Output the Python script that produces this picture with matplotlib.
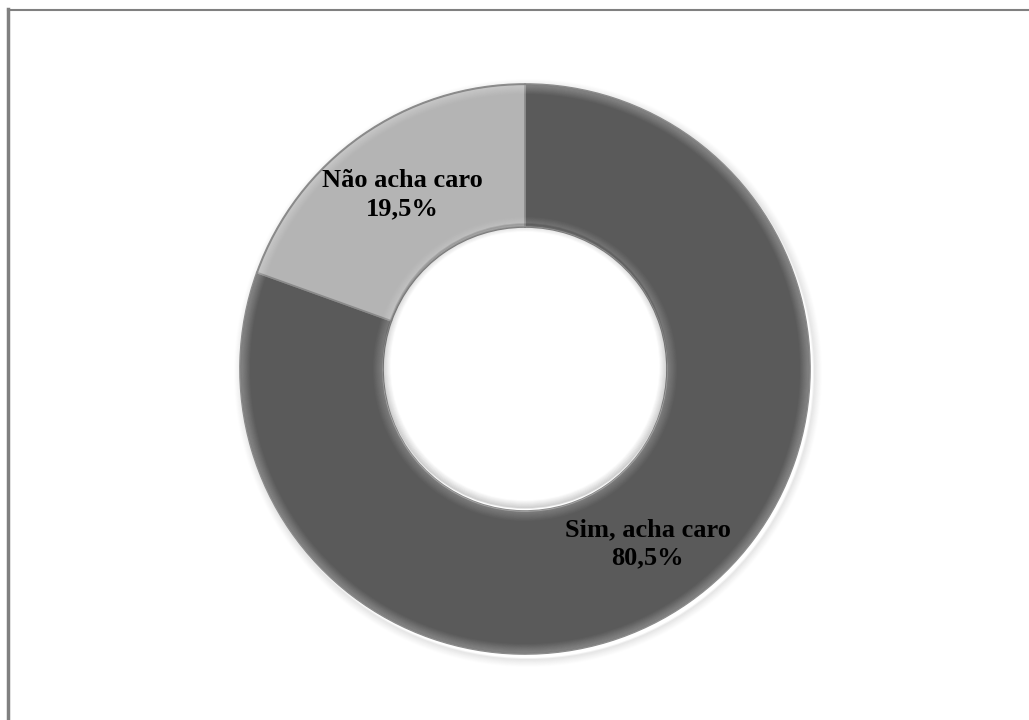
import numpy as np
import matplotlib.pyplot as plt
from matplotlib.patches import Wedge, Circle

labels = ["Sim, acha caro", "Não acha caro"]
shares = [80.5, 19.5]
colors = ["#5a5a5a", "#b4b4b4"]

# donut geometry in pixel units (axes fill the whole figure)
cx, cy = 525, 351
r_out, r_in = 285, 142


def draw_donut(ax):
    wedges, _ = ax.pie(shares, colors=colors, startangle=90, counterclock=False,
                       center=(cx, cy), radius=r_out,
                       wedgeprops=dict(width=r_out - r_in, edgecolor="#8a8a8a",
                                       linewidth=1.2))
    # soft bevel: lighter rims along the outer and inner edge of each slice
    for w in wedges:
        t1, t2 = w.theta1, w.theta2
        for k in range(10):
            a = 0.28 * (1 - k / 10)
            ax.add_patch(Wedge((cx, cy), r_out - k, t1, t2, width=1,
                               facecolor="white", alpha=a, linewidth=0))
            ax.add_patch(Wedge((cx, cy), r_in + k + 1, t1, t2, width=1,
                               facecolor="white", alpha=a * 0.8, linewidth=0))
        ax.add_patch(Wedge((cx, cy), r_out, t1, t2, width=1.2,
                           facecolor="#6e6e6e", alpha=0.6, linewidth=0))
    # shadow cast into the hole
    for k in range(8):
        ax.add_patch(Circle((cx, cy + 3), r_in - k, facecolor="none",
                            edgecolor="black", alpha=0.12 * (1 - k / 8), linewidth=1.2))
    return wedges


def add_labels(ax, wedges):
    mid_r = (r_out + r_in) / 2
    for w, lab, val in zip(wedges, labels, shares):
        ang = np.deg2rad((w.theta1 + w.theta2) / 2)
        x = cx + mid_r * np.cos(ang)
        y = cy + mid_r * np.sin(ang)
        txt = "%s\n%s%%" % (lab, ("%.1f" % val).replace(".", ","))
        ax.text(x, y, txt, ha="center", va="center", fontsize=19,
                fontweight="bold", family="Liberation Serif", linespacing=1.28)


fig = plt.figure(figsize=(10.29, 7.2), dpi=100)
ax = fig.add_axes([0, 0, 1, 1])

# drop shadow behind the ring
for k in range(8):
    ax.add_patch(Circle((cx + 3, cy - 4), r_out + 1 + k, facecolor="none",
                        edgecolor="black", alpha=0.05 * (1 - k / 8), linewidth=1.5))

wedges = draw_donut(ax)
add_labels(ax, wedges)

# frame: top and left edges only
ax.plot([8, 1029], [710, 710], color="#808080", linewidth=1.5)
ax.plot([8, 8], [0, 710.7], color="#808080", linewidth=2.5)

# pie() resets the limits, so set them afterwards
ax.set_xlim(0, 1029)
ax.set_ylim(0, 720)
ax.set_aspect("equal")
ax.axis("off")

fig.savefig("out.png", dpi=100)
